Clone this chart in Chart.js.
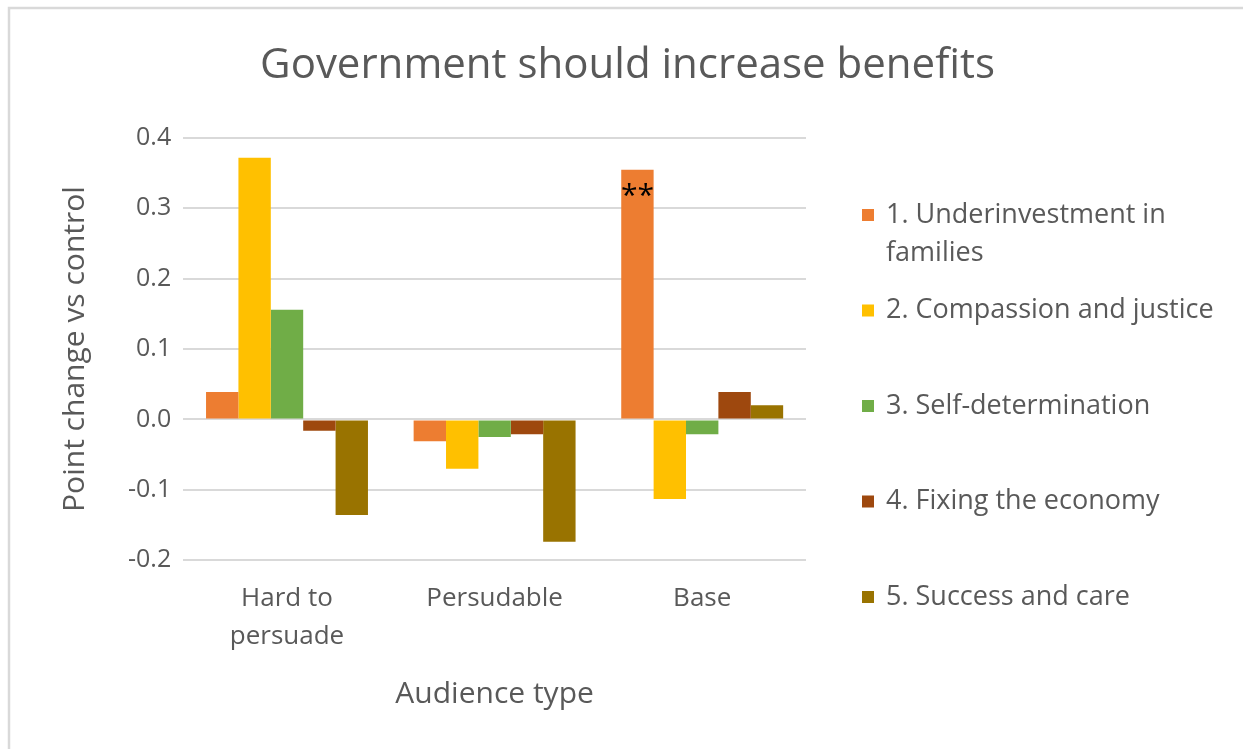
<!DOCTYPE html>
<html>
<head>
<meta charset="utf-8">
<script src="https://cdn.jsdelivr.net/npm/chart.js@4.4.1/dist/chart.umd.min.js"></script>
<style>
  html, body { margin: 0; padding: 0; background: #fff; }
  #wrap { position: relative; width: 1243px; height: 749px; }
</style>
</head>
<body>
<div id="wrap"><canvas id="c" width="1243" height="749"></canvas></div>
<script>
// ---- data ----
const chartTitle = 'Government should increase benefits';
const categories = [['Hard to', 'persuade'], 'Persudable', 'Base'];
const seriesNames = [
  '1. Underinvestment in families',
  '2. Compassion and justice',
  '3. Self-determination',
  '4. Fixing the economy',
  '5. Success and care'
];
const underinvestment = [0.039, -0.031, 0.355];
const compassion      = [0.372, -0.070, -0.113];
const selfDetermination = [0.156, -0.025, -0.021];
const fixingEconomy   = [-0.016, -0.021, 0.039];
const successCare     = [-0.136, -0.174, 0.020];
const yTickValues = [-0.2, -0.1, 0.0, 0.1, 0.2, 0.3, 0.4];
const annotations = [{ series: 0, category: 2, text: '**' }];
const xAxisTitle = 'Audience type';
const yAxisTitle = 'Point change vs control';

// ---- styles ----
const colors = ['#ED7D31', '#FFC000', '#70AD47', '#9E480E', '#997300'];
const textColor = '#595959';
const FONT = "'Open Sans', 'Noto Sans', sans-serif";
const allSeries = [underinvestment, compassion, selfDetermination, fixingEconomy, successCare];

const frameAndBg = {
  id: 'frameAndBg',
  beforeDraw(chart) {
    const ctx = chart.ctx;
    ctx.save();
    ctx.fillStyle = '#fff';
    ctx.fillRect(0, 0, chart.width, chart.height);
    ctx.strokeStyle = '#d9d9d9';
    ctx.lineWidth = 2.5;
    ctx.beginPath();
    ctx.moveTo(9, chart.height + 5);
    ctx.lineTo(9, 8);
    ctx.lineTo(chart.width + 5, 8);
    ctx.stroke();
    ctx.restore();
  }
};

const centeredTitle = {
  id: 'centeredTitle',
  afterDraw(chart) {
    const ctx = chart.ctx;
    ctx.save();
    ctx.font = '42px ' + FONT;
    ctx.fillStyle = textColor;
    ctx.textAlign = 'center';
    ctx.textBaseline = 'middle';
    ctx.fillText(chartTitle, chart.width / 2 + 6, 66);
    ctx.restore();
  }
};

const sideLegend = {
  id: 'sideLegend',
  afterDraw(chart) {
    const ctx = chart.ctx;
    const x0 = chart.chartArea.right + 56;
    const firstY = 215, step = 95.5, lineH = 38, maxW = 340;
    ctx.save();
    ctx.font = '27px ' + FONT;
    ctx.textBaseline = 'middle';
    chart.data.datasets.forEach((ds, i) => {
      const y = firstY + i * step;
      ctx.fillStyle = ds.backgroundColor;
      ctx.fillRect(x0, y - 6, 12, 12);
      const words = ds.label.split(' ');
      const lines = [];
      let cur = '';
      words.forEach(w => {
        const t = cur ? cur + ' ' + w : w;
        if (ctx.measureText(t).width > maxW && cur) { lines.push(cur); cur = w; }
        else cur = t;
      });
      lines.push(cur);
      ctx.fillStyle = textColor;
      lines.forEach((ln, k) => ctx.fillText(ln, x0 + 24, y + k * lineH));
    });
    ctx.restore();
  }
};

const barNotes = {
  id: 'barNotes',
  afterDatasetsDraw(chart) {
    const ctx = chart.ctx;
    ctx.save();
    ctx.font = '30px ' + FONT;
    ctx.fillStyle = '#000';
    ctx.textAlign = 'center';
    ctx.textBaseline = 'middle';
    annotations.forEach(a => {
      const el = chart.getDatasetMeta(a.series).data[a.category];
      ctx.fillText(a.text, el.x, el.y + 27);
    });
    ctx.restore();
  }
};

new Chart(document.getElementById('c'), {
  type: 'bar',
  data: {
    labels: categories,
    datasets: allSeries.map((vals, i) => ({
      label: seriesNames[i],
      data: vals,
      backgroundColor: colors[i],
      borderWidth: 0,
      categoryPercentage: 0.78,
      barPercentage: 1.0
    }))
  },
  options: {
    responsive: false,
    animation: false,
    layout: { padding: { left: 48, right: 437, top: 138, bottom: 33 } },
    plugins: {
      legend: { display: false },
      tooltip: { enabled: false },
      title: { display: false }
    },
    scales: {
      x: {
        grid: { display: false, drawTicks: false },
        border: { display: false },
        ticks: {
          color: textColor,
          font: { family: FONT, size: 26, lineHeight: 1.46 },
          padding: 20,
          maxRotation: 0
        },
        title: {
          display: true,
          text: xAxisTitle,
          color: textColor,
          font: { family: FONT, size: 30, lineHeight: 1.2 },
          padding: { top: 0, bottom: 4 }
        }
      },
      y: {
        min: yTickValues[0],
        max: yTickValues[yTickValues.length - 1],
        afterBuildTicks(scale) { scale.ticks = yTickValues.map(v => ({ value: v })); },
        grid: { color: '#d9d9d9', lineWidth: 2, drawTicks: false },
        border: { display: false },
        ticks: {
          color: textColor,
          font: { family: FONT, size: 25 },
          padding: 12,
          callback: v => Number(v).toFixed(1)
        },
        title: {
          display: true,
          text: yAxisTitle,
          color: textColor,
          font: { family: FONT, size: 30, lineHeight: 1.2 },
          padding: { top: 9, bottom: 23 }
        }
      }
    }
  },
  plugins: [frameAndBg, centeredTitle, sideLegend, barNotes]
});
</script>
</body>
</html>
